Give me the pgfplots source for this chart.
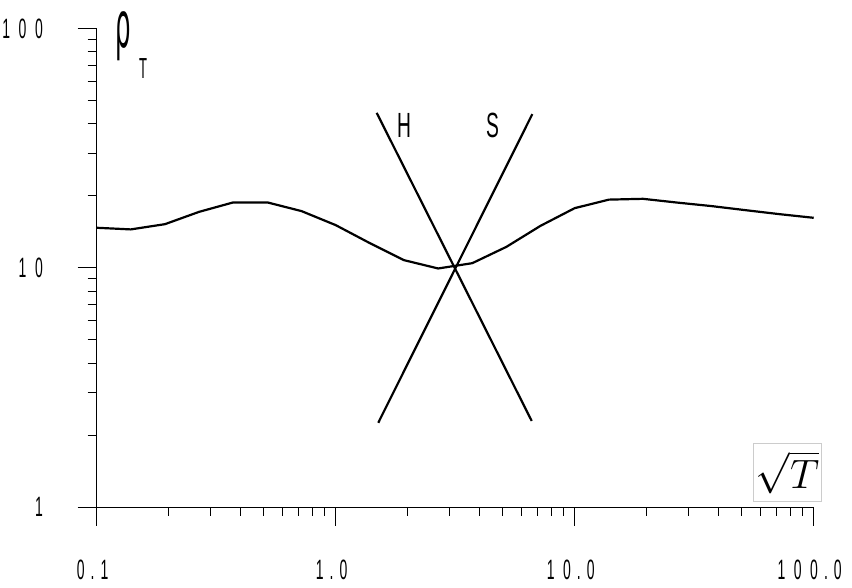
\documentclass[border=0pt]{standalone}
\usepackage{fontspec}
\usepackage{graphicx}
\usepackage{pgfplots}
\pgfplotsset{compat=1.18}
\newfontfamily\lib{Liberation Sans}
\newfontfamily\dvs{DejaVu Sans}
\newcommand\tk[1]{\scalebox{0.5}[1]{\lib\fontsize{28}{30}\selectfont #1}}
\newcommand\g{\kern17pt}
\newcommand\gd{\kern12pt}
\begin{document}
\begin{tikzpicture}
\path[use as bounding box] (-96.7pt,-80pt) rectangle (755.3pt,507pt);
\begin{axis}[
  at={(0,0)}, anchor=south west,
  scale only axis, width=717pt, height=478.3pt,
  xmode=log, ymode=log,
  xmin=0.1, xmax=100, ymin=1, ymax=100,
  axis lines*=left,
  axis line style={black, line width=0.9pt},
  tick align=outside,
  major tick length=19pt, minor tick length=9pt,
  every tick/.style={black, line width=0.9pt},
  xtick={0.1,1,10,100}, ytick={1,10,100},
  xticklabels={\tk{0\gd.\gd 1}, \tk{1\gd.\gd 0}, \tk{1\g 0\gd.\gd 0}, \tk{1\g 0\g 0\gd.\gd 0}},
  yticklabels={\tk{1}, \tk{1\g 0}, \tk{1\g 0\g 0}},
  xticklabel style={anchor=center, inner sep=0pt, yshift=-44pt, xshift=-4pt},
  yticklabel style={anchor=east, inner sep=0pt, xshift=-34.7pt},
  clip=false,
]
\addplot[black, line width=2.2pt, line join=round] coordinates {
(0.1,14.71)(0.1389,14.48)(0.1931,15.23)(0.2683,17.15)(0.3728,18.78)(0.5179,18.78)(0.7197,17.27)(1.0,15.09)(1.389,12.69)(1.931,10.77)(2.683,9.94)(3.728,10.46)(5.179,12.24)(7.197,14.99)(10,17.77)(13.89,19.29)(19.31,19.44)(26.83,18.75)(37.28,18.13)(51.79,17.43)(71.97,16.77)(100,16.19)
};
\addplot[black, line width=2.2pt] coordinates {(1.484,44.5)(6.61,2.29)};
\addplot[black, line width=2.2pt] coordinates {(1.507,2.25)(6.65,43.95)};
\end{axis}
\node[anchor=base, inner sep=0pt] at (26.8pt,459pt) {\scalebox{0.4}[1.05]{\dvs\fontsize{61}{61}\selectfont ρ}};
\node[anchor=base, inner sep=0pt] at (46.3pt,428pt) {\scalebox{0.45}[1]{\lib\fontsize{29}{29}\selectfont T}};
\node[anchor=base, inner sep=0pt] at (307.3pt,369pt) {\scalebox{0.55}[1]{\lib\fontsize{35}{35}\selectfont H}};
\node[anchor=base, inner sep=0pt] at (395.8pt,369pt) {\scalebox{0.55}[1]{\lib\fontsize{35}{35}\selectfont S}};
\node[draw=black!20, line width=0.8pt, minimum width=68pt, minimum height=58pt, inner sep=0pt] at (690.8pt,34.5pt) {\scalebox{1.65}{\Huge$\sqrt{T}$}};
\end{tikzpicture}
\end{document}
